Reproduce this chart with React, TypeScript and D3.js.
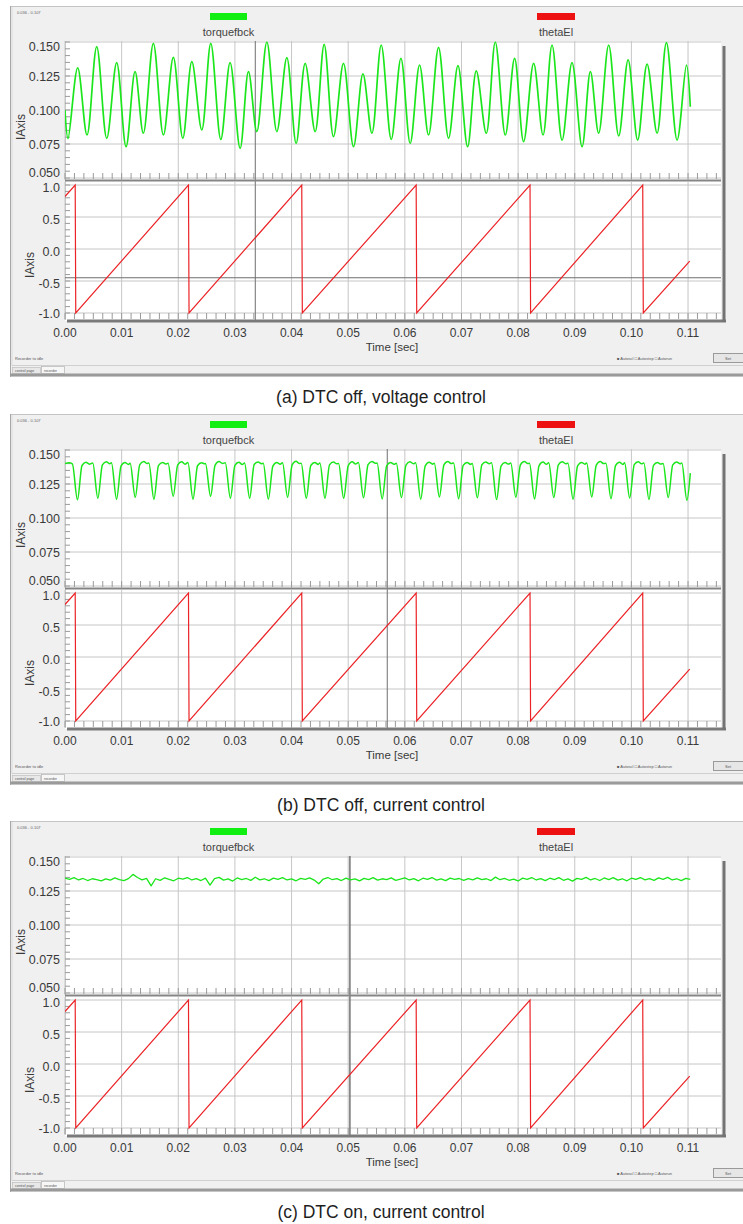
import React from 'react';
import * as d3 from 'd3';

// ---------- data ----------
const timeTicks = [0, 0.01, 0.02, 0.03, 0.04, 0.05, 0.06, 0.07, 0.08, 0.09, 0.1, 0.11];
const timeTickLabels = ['0.00', '0.01', '0.02', '0.03', '0.04', '0.05', '0.06', '0.07', '0.08', '0.09', '0.10', '0.11'];
const torqueTicks = [0.05, 0.075, 0.1, 0.125, 0.15];
const torqueTickLabels = ['0.050', '0.075', '0.100', '0.125', '0.150'];
const thetaTicks = [-1, -0.5, 0, 0.5, 1];
const thetaTickLabels = ['-1.0', '-0.5', '0.0', '0.5', '1.0'];
const seriesNames = ['torquefbck', 'thetaEl'];
const captions = ['(a) DTC off, voltage control', '(b) DTC off, current control', '(c) DTC on, current control'];
const cursorTimes = [0.0336, 0.0569, 0.0503];

// (a) torque feedback: alternating troughs / peaks [time, value]
const torqueA: [number, number][] = [
  [0.0, 0.1], [0.00053, 0.079], [0.00224, 0.131], [0.00389, 0.0816], [0.0056, 0.1466],
  [0.00737, 0.0792], [0.00913, 0.1348], [0.01078, 0.073], [0.01237, 0.1282], [0.01383, 0.0829],
  [0.0156, 0.149], [0.01737, 0.0816], [0.01913, 0.1387], [0.0208, 0.0792], [0.02239, 0.1355],
  [0.02415, 0.0853], [0.02574, 0.149], [0.02751, 0.0784], [0.02915, 0.1348], [0.03092, 0.0718],
  [0.03239, 0.1282], [0.03387, 0.0841], [0.03564, 0.15], [0.0374, 0.0841], [0.03917, 0.1385],
  [0.04081, 0.0755], [0.0424, 0.1343], [0.04417, 0.0841], [0.04576, 0.1483], [0.0474, 0.0804],
  [0.04917, 0.1343], [0.05094, 0.073], [0.0526, 0.1265], [0.05419, 0.0829], [0.05583, 0.1478],
  [0.0576, 0.0784], [0.05931, 0.138], [0.06095, 0.0755], [0.0626, 0.1331], [0.06419, 0.0816],
  [0.06595, 0.1461], [0.06772, 0.0792], [0.06938, 0.1326], [0.07108, 0.073], [0.07261, 0.1287],
  [0.07438, 0.0829], [0.07597, 0.15], [0.07774, 0.0816], [0.07938, 0.138], [0.08097, 0.0767],
  [0.08274, 0.1343], [0.0844, 0.0816], [0.08599, 0.1478], [0.08776, 0.0779], [0.08952, 0.1348],
  [0.09129, 0.073], [0.09276, 0.1282], [0.09422, 0.0829], [0.09599, 0.1478], [0.09776, 0.0809],
  [0.09942, 0.1368], [0.10111, 0.0779], [0.10277, 0.1338], [0.10454, 0.0829], [0.10618, 0.1495],
  [0.10807, 0.0779], [0.10972, 0.1331], [0.1104, 0.1024],
];

// (b) torque feedback: plateau with periodic dips
const startB: [number, number][] = [[0, 0.14], [0.0007, 0.1406], [0.0013, 0.1398]];
const dipTimesB = [0.0022, 0.0058, 0.0091, 0.0124, 0.0157, 0.0191, 0.0226, 0.0257, 0.0292, 0.0326, 0.0359,
  0.0393, 0.0426, 0.0459, 0.0492, 0.0527, 0.056, 0.0594, 0.0628, 0.0661, 0.0695, 0.0728, 0.0762, 0.0796,
  0.0829, 0.0863, 0.0897, 0.093, 0.0964, 0.0997, 0.1031, 0.1065, 0.1098];
const dipValuesB = [0.1134, 0.1145, 0.1138, 0.1152, 0.1138, 0.116, 0.1138, 0.116, 0.1145, 0.1145, 0.1138,
  0.1152, 0.1145, 0.1145, 0.1145, 0.1148, 0.114, 0.115, 0.1138, 0.1155, 0.1142, 0.1148, 0.1136, 0.1152,
  0.114, 0.115, 0.1138, 0.1155, 0.1142, 0.1147, 0.1136, 0.115, 0.113];
const plateauB = [
  [0.1386, 0.141, 0.1396, 0.1404], [0.139, 0.1414, 0.1399, 0.1407], [0.1383, 0.1408, 0.1394, 0.1402],
  [0.1392, 0.1416, 0.14, 0.1405], [0.1385, 0.1409, 0.1397, 0.1403], [0.1391, 0.1413, 0.1395, 0.1408],
  [0.1384, 0.1407, 0.1398, 0.1401], [0.1389, 0.1415, 0.1401, 0.1406], [0.1387, 0.141, 0.1393, 0.1404],
  [0.1393, 0.1412, 0.1399, 0.1402], [0.1382, 0.1408, 0.1396, 0.1407], [0.139, 0.1417, 0.14, 0.1403],
  [0.1386, 0.1409, 0.1394, 0.1405], [0.1391, 0.1411, 0.1398, 0.1401], [0.1384, 0.1414, 0.1397, 0.1408],
  [0.1392, 0.1416, 0.1402, 0.1404], [0.1385, 0.1408, 0.1395, 0.1402], [0.1389, 0.1413, 0.1399, 0.1406],
  [0.1383, 0.141, 0.1396, 0.1403], [0.139, 0.1415, 0.14, 0.1405], [0.1387, 0.1409, 0.1394, 0.1401],
  [0.1392, 0.1412, 0.1398, 0.1407], [0.1384, 0.1408, 0.1397, 0.1404], [0.1391, 0.1416, 0.1401, 0.1402],
  [0.1386, 0.1411, 0.1395, 0.1406], [0.139, 0.1413, 0.1399, 0.1403], [0.1383, 0.1409, 0.1396, 0.1405],
  [0.1389, 0.1415, 0.14, 0.1402], [0.1385, 0.141, 0.1394, 0.1407], [0.1392, 0.1414, 0.1398, 0.1404],
  [0.1387, 0.1408, 0.1397, 0.1401], [0.139, 0.1412, 0.1399, 0.1405],
];
const endB: [number, number] = [0.1104, 0.133];

// (c) torque feedback: sampled every 0.8 ms
const sampleStepC = 0.0008;
const torqueC = [
  0.1345, 0.1336, 0.1348, 0.1331, 0.1342, 0.1327, 0.134, 0.1333, 0.1324, 0.1339,
  0.133, 0.1346, 0.1334, 0.1326, 0.1341, 0.1372, 0.1349, 0.1332, 0.1343, 0.1288,
  0.134, 0.1328, 0.1347, 0.1335, 0.1325, 0.1344, 0.1337, 0.1349, 0.1331, 0.1341,
  0.1327, 0.1345, 0.1293, 0.1341, 0.135, 0.133, 0.1339, 0.1323, 0.1346, 0.1334,
  0.1342, 0.1328, 0.1351, 0.1332, 0.134, 0.1326, 0.1345, 0.1336, 0.1348, 0.1331,
  0.1339, 0.1325, 0.1343, 0.1335, 0.1347, 0.133, 0.1303, 0.1338, 0.1349, 0.1333,
  0.1341, 0.1327, 0.1345, 0.1332, 0.1339, 0.1324, 0.1343, 0.1334, 0.1348, 0.133,
  0.134, 0.1333, 0.1346, 0.1328, 0.1337, 0.1347, 0.1331, 0.1341, 0.1325, 0.1344,
  0.1335, 0.1349, 0.133, 0.1339, 0.1326, 0.1345, 0.1336, 0.1342, 0.1328, 0.1341,
  0.1332, 0.1347, 0.1334, 0.134, 0.1327, 0.1352, 0.1333, 0.1343, 0.1329, 0.1338,
  0.1324, 0.1345, 0.1336, 0.1349, 0.1331, 0.1341, 0.1326, 0.1344, 0.1334, 0.1348,
  0.1329, 0.1339, 0.1323, 0.1343, 0.1336, 0.135, 0.1331, 0.1342, 0.1327, 0.1346,
  0.1334, 0.1348, 0.133, 0.134, 0.1325, 0.1344, 0.1335, 0.1349, 0.1332, 0.1341,
  0.1328, 0.1346, 0.1336, 0.135, 0.1331, 0.134, 0.1326, 0.1343, 0.1335,
];

// electrical angle (sawtooth), same in all three recordings
const thetaEl: [number, number][] = [
  [0, 0.82], [0.0018, 1.0], [0.0019, -1.0], [0.0218, 1.0], [0.0219, -1.0], [0.0418, 1.0], [0.0419, -1.0],
  [0.062, 1.0], [0.0621, -1.0], [0.0821, 1.0], [0.0822, -1.0], [0.102, 1.0], [0.1021, -1.0], [0.1103, -0.19],
];

// ---------- build series ----------
const torqueB: [number, number][] = [...startB];
dipTimesB.forEach((td, i) => {
  torqueB.push([td, dipValuesB[i]]);
  if (i < dipTimesB.length - 1) {
    const p = plateauB[i];
    const tn = dipTimesB[i + 1];
    torqueB.push([td + 0.0008, p[0]], [td + 0.0015, p[1]], [td + 0.0021, p[2]], [tn - 0.0009, p[3]]);
  }
});
torqueB.push(endB);
const torqueCPts: [number, number][] = torqueC.map((v, i) => [i * sampleStepC, v]);

// ---------- layout ----------
const FONT = 'Liberation Sans, Arial, Helvetica, sans-serif';
const PLOT_L = 65;
const PLOT_R = 721;
const X_MAX = (PLOT_R - PLOT_L) / 5664;

type PanelProps = {
  idx: number;
  offset: number;
  torque: [number, number][];
  curve: any;
  lineWidth: number;
  cursorT: number;
  hCursor?: number;
  caption: string;
};

const Panel = ({ idx, offset, torque, curve, lineWidth, cursorT, hCursor, caption }: PanelProps) => {
  const x = d3.scaleLinear().domain([0, X_MAX]).range([PLOT_L, PLOT_R]);
  const yT = d3.scaleLinear().domain([0.05, 0.15]).range([178, 42]);
  const yB = d3.scaleLinear().domain([-1, 1]).range([313, 185]);
  const green = d3.line<[number, number]>().x((d) => x(d[0])).y((d) => yT(d[1])).curve(curve)(torque) || '';
  const red = d3.line<[number, number]>().x((d) => x(d[0])).y((d) => yB(d[1]))(thetaEl) || '';
  const minorX = d3.range(0, 80).map((i) => (i * 0.01) / 6).filter((t) => x(t) < PLOT_R - 2);
  const minorYT = d3.range(0, 21).map((i) => 0.05 + i * 0.005);
  const minorYB = d3.range(0, 21).map((i) => -1 + i * 0.1);
  const grid = '#c6c6c6';
  const tick = '#9a9a9a';
  const lbl = '#3a3a3a';
  return (
    <g transform={`translate(0,${offset})`} fontFamily={FONT}>
      <defs>
        <clipPath id={`clipT${idx}`}>
          <rect x={PLOT_L} y={41} width={PLOT_R - PLOT_L} height={139} />
        </clipPath>
        <clipPath id={`clipB${idx}`}>
          <rect x={PLOT_L} y={182} width={PLOT_R - PLOT_L} height={138} />
        </clipPath>
      </defs>
      {/* window */}
      <rect x={10} y={6} width={733} height={371} fill="#f0f0f0" />
      <line x1={10} x2={743} y1={6.5} y2={6.5} stroke="#c4c4c4" />
      <line x1={10.5} x2={10.5} y1={6} y2={377} stroke="#a8a8a8" />
      <line x1={12} x2={12} y1={7} y2={366} stroke="#dadada" />
      <text x={17} y={14} fontSize={4} fill="#666">0.036 - 0.107</text>
      {/* legend */}
      <rect x={210} y={13} width={37} height={7} fill="#11ee11" />
      <text x={228.5} y={36} fontSize={11} fill="#444" textAnchor="middle">{seriesNames[0]}</text>
      <rect x={537} y={13} width={38} height={7} fill="#ee1111" />
      <text x={556} y={36} fontSize={11} fill="#444" textAnchor="middle">{seriesNames[1]}</text>
      {/* plot area */}
      <rect x={PLOT_L} y={41} width={PLOT_R - PLOT_L} height={280} fill="#ffffff" />
      <line x1={PLOT_L + 0.5} x2={PLOT_L + 0.5} y1={41} y2={320} stroke="#c8c8c8" />
      {/* grid top */}
      {torqueTicks.map((v) => (
        <line key={`gt${v}`} x1={PLOT_L} x2={PLOT_R} y1={yT(v)} y2={yT(v)} stroke={grid} />
      ))}
      {timeTicks.map((t) => (
        <line key={`gvt${t}`} x1={x(t)} x2={x(t)} y1={41} y2={180} stroke={grid} />
      ))}
      {/* grid bottom */}
      {thetaTicks.map((v) => (
        <line key={`gb${v}`} x1={PLOT_L} x2={PLOT_R} y1={yB(v)} y2={yB(v)} stroke={grid} />
      ))}
      {timeTicks.map((t) => (
        <line key={`gvb${t}`} x1={x(t)} x2={x(t)} y1={182} y2={320} stroke={grid} />
      ))}
      {/* minor ticks */}
      {minorX.map((t, i) => (
        <g key={`mx${i}`}>
          <line x1={x(t)} x2={x(t)} y1={173} y2={179} stroke={tick} />
          <line x1={x(t)} x2={x(t)} y1={313} y2={319} stroke={tick} />
        </g>
      ))}
      {minorYT.map((v, i) => (
        <line key={`myt${i}`} x1={PLOT_L} x2={PLOT_L + 5} y1={yT(v)} y2={yT(v)} stroke={tick} />
      ))}
      {minorYB.map((v, i) => (
        <line key={`myb${i}`} x1={PLOT_L} x2={PLOT_L + 5} y1={yB(v)} y2={yB(v)} stroke={tick} />
      ))}
      {/* cursors */}
      <line x1={x(cursorT)} x2={x(cursorT)} y1={41} y2={320} stroke="#7c7c7c" strokeWidth={idx === 2 ? 1.6 : 1.1} />
      {hCursor !== undefined && (
        <line x1={PLOT_L} x2={PLOT_R} y1={yB(hCursor)} y2={yB(hCursor)} stroke="#6e6e6e" strokeWidth={1.1} />
      )}
      {/* separator & borders */}
      <line x1={PLOT_L} x2={PLOT_R} y1={180.5} y2={180.5} stroke="#858585" strokeWidth={2} />
      <line x1={67} x2={726} y1={321} y2={321} stroke="#7a7a7a" strokeWidth={3} />
      <line x1={724} x2={724} y1={46} y2={322} stroke="#737373" strokeWidth={3} />
      {/* data */}
      <path d={green} fill="none" stroke="#1be61b" strokeWidth={lineWidth} clipPath={`url(#clipT${idx})`} strokeLinejoin="round" />
      <path d={red} fill="none" stroke="#ec2226" strokeWidth={1.2} clipPath={`url(#clipB${idx})`} />
      {/* y labels */}
      {torqueTicks.map((v, i) => (
        <text key={`lt${v}`} x={60} y={Math.max(46, Math.min(172.5, yT(v))) + 4.5} fontSize={12.5} fill={lbl} textAnchor="end">
          {torqueTickLabels[i]}
        </text>
      ))}
      {thetaTicks.map((v, i) => (
        <text key={`lb${v}`} x={60} y={Math.min(yB(v) + 2, 313) + 4.5} fontSize={12.5} fill={lbl} textAnchor="end">
          {thetaTickLabels[i]}
        </text>
      ))}
      <text transform="translate(25,127) rotate(-90)" fontSize={12} fill={lbl} textAnchor="middle">IAxis</text>
      <text transform="translate(34,265) rotate(-90)" fontSize={12} fill={lbl} textAnchor="middle">IAxis</text>
      {/* x labels */}
      {timeTicks.map((t, i) => (
        <text key={`lx${t}`} x={x(t)} y={336.5} fontSize={12} fill={lbl} textAnchor="middle">
          {timeTickLabels[i]}
        </text>
      ))}
      <text x={392} y={350.5} fontSize={11.5} fill={lbl} textAnchor="middle">Time [sec]</text>
      {/* bottom chrome */}
      <text x={15} y={360} fontSize={4} fill="#555">Recorder to idle</text>
      <text x={617} y={360} fontSize={4} fill="#555">■ Autoscl   □ Autostep   □ Autorun</text>
      <rect x={713.5} y={353.5} width={30} height={9} fill="#e6e6e6" stroke="#9a9a9a" />
      <text x={728} y={360} fontSize={4} fill="#555" textAnchor="middle">Set</text>
      <line x1={12} x2={743} y1={365.5} y2={365.5} stroke="#d0d0d0" />
      <rect x={12.5} y={367.5} width={28} height={6} fill="#e8e8e8" stroke="#b8b8b8" strokeWidth={0.6} />
      <text x={15} y={372} fontSize={3.5} fill="#555">control page</text>
      <rect x={41.5} y={366.5} width={23} height={7} fill="#f7f7f7" stroke="#a8a8a8" strokeWidth={0.6} />
      <text x={44} y={371.5} fontSize={3.5} fill="#555">recorder</text>
      <line x1={10} x2={743} y1={375} y2={375} stroke="#9a9a9a" strokeWidth={3} />
      {/* caption */}
      <text x={381} y={403} fontSize={17.5} fill="#1e1e1e" textAnchor="middle">{caption}</text>
    </g>
  );
};

export default function App() {
  return (
    <svg width={743} height={1224} style={{ position: 'absolute', left: 0, top: 0, background: '#fff' }}>
      <rect x={0} y={0} width={743} height={1224} fill="#ffffff" />
      <Panel idx={0} offset={0} torque={torqueA} curve={d3.curveCatmullRom.alpha(0.5)} lineWidth={1.7} cursorT={cursorTimes[0]} hCursor={-0.45} caption={captions[0]} />
      <Panel idx={1} offset={408} torque={torqueB} curve={d3.curveMonotoneX} lineWidth={1.5} cursorT={cursorTimes[1]} caption={captions[1]} />
      <Panel idx={2} offset={815} torque={torqueCPts} curve={d3.curveLinear} lineWidth={1.3} cursorT={cursorTimes[2]} caption={captions[2]} />
    </svg>
  );
}
